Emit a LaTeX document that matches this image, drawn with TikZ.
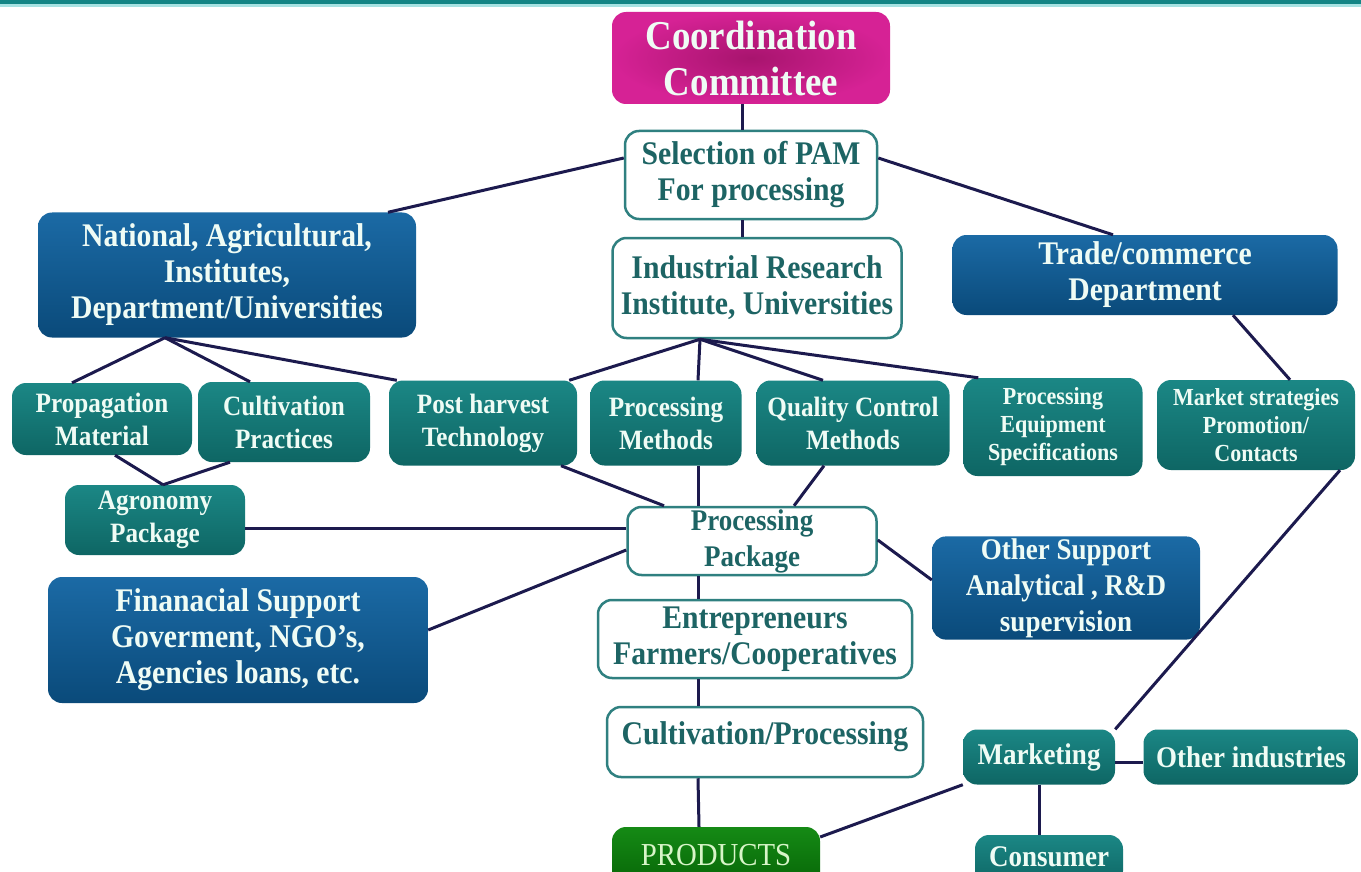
\documentclass[tikz,border=0pt]{standalone}
\usepackage{fontspec}
\setmainfont{Liberation Serif}[FakeStretch=0.9]
\usetikzlibrary{positioning}
\definecolor{navyLine}{HTML}{1C1A4E}
\definecolor{tealLine}{HTML}{2F8080}
\definecolor{tealText}{HTML}{1D6464}
\definecolor{lightText}{HTML}{EFFCF5}
\definecolor{blueTop}{HTML}{1B6AA5}
\definecolor{blueBot}{HTML}{0A4A7A}
\definecolor{tealTop}{HTML}{1B8785}
\definecolor{tealBot}{HTML}{0E6664}
\definecolor{pinkIn}{HTML}{A8146E}
\definecolor{pinkOut}{HTML}{D62295}
\definecolor{greenTop}{HTML}{158A15}
\definecolor{greenBot}{HTML}{056005}
\definecolor{greenText}{HTML}{D8F5C8}
\definecolor{barTeal}{HTML}{138585}
\definecolor{barLight}{HTML}{A6E2E2}
\tikzstyle{box} = [rounded corners=14pt, align=center, inner sep=2pt]
\tikzstyle{whiteBox} = [box, fill=white, draw=tealLine, line width=2.5pt, text=tealText]
\tikzstyle{blueBox} = [box, top color=blueTop, bottom color=blueBot, text=lightText]
\tikzstyle{tealBox} = [box, top color=tealTop, bottom color=tealBot, text=lightText]
\tikzstyle{pinkBox} = [box, inner color=pinkIn, outer color=pinkOut, text=lightText]
\tikzstyle{greenBox} = [box, top color=greenTop, bottom color=greenBot, text=greenText]
\tikzstyle{hugeText} = [font=\fontsize{41}{46}\selectfont\bfseries]
\tikzstyle{bigText} = [font=\fontsize{33}{36}\selectfont\bfseries]
\tikzstyle{midText} = [font=\fontsize{30}{36}\selectfont\bfseries]
\tikzstyle{smallText} = [font=\fontsize{28}{33}\selectfont\bfseries]
\tikzstyle{tinyText} = [font=\fontsize{24.5}{28}\selectfont\bfseries]
\tikzstyle{link} = [line width=3pt, draw=navyLine]

\begin{document}
\begin{tikzpicture}[x=1pt, y=-1pt]
    \clip (0,0) rectangle (1361,872);
    \fill[white] (0,0) rectangle (1361,872);
    \fill[barLight] (0,0) rectangle (1361,7);
    \fill[barTeal] (0,0) rectangle (1361,4);
    % top of the chart
    \node (coord) [pinkBox, hugeText, minimum width=278pt, minimum height=92pt] at (751,58) {Coordination\\Committee};
    \node (select) [whiteBox, bigText, minimum width=252pt, minimum height=88pt] at (751,175) {Selection of PAM\\For processing};
    \node (national) [blueBox, bigText, minimum width=378pt, minimum height=125pt] at (227,275) {National, Agricultural,\\Institutes,\\Department/Universities};
    \node (industrial) [whiteBox, bigText, minimum width=289pt, minimum height=100pt] at (757,288) {Industrial Research\\Institute, Universities};
    \node (trade) [blueBox, bigText, minimum width=385pt, minimum height=80pt] at (1145,275) {Trade/commerce\\Department};
    % second row
    \node (prop) [tealBox, smallText, minimum width=180pt, minimum height=72pt] at (102,419) {Propagation\\Material};
    \node (cult) [tealBox, smallText, minimum width=172pt, minimum height=80pt] at (284,422) {Cultivation\\Practices};
    \node (post) [tealBox, smallText, minimum width=188pt, minimum height=85pt] at (483,423) {Post harvest\\Technology};
    \node (meth) [tealBox, smallText, minimum width=151pt, minimum height=85pt] at (666,423) {Processing\\Methods};
    \node (qual) [tealBox, smallText, minimum width=193pt, minimum height=85pt] at (853,423) {Quality Control\\Methods};
    \node (equip) [tealBox, tinyText, minimum width=179pt, minimum height=98pt] at (1053,427) {Processing\\Equipment\\Specifications};
    \node (market) [tealBox, tinyText, minimum width=198pt, minimum height=90pt] at (1256,425) {Market strategies\\Promotion/\\Contacts};
    % packages
    \node (agro) [tealBox, smallText, minimum width=180pt, minimum height=70pt] at (155,520) {Agronomy\\Package};
    \node (proc) [whiteBox, midText, minimum width=249pt, minimum height=68pt] at (752,541) {Processing\\Package};
    \node (other) [blueBox, midText, minimum width=268pt, minimum height=100pt] at (1066,588) {Other Support\\Analytical , R\&D\\supervision};
    \node (fin) [blueBox, bigText, minimum width=380pt, minimum height=126pt] at (238,640) {Finanacial Support\\Goverment, NGO's,\\Agencies loans, etc.};
    % bottom column
    \node (entr) [whiteBox, bigText, minimum width=314pt, minimum height=78pt] at (755,639) {Entrepreneurs\\Farmers/Cooperatives};
    \node (cultproc) [whiteBox, bigText, minimum width=316pt, minimum height=70pt, text depth=18pt] at (765,742) {Cultivation/Processing};
    \node (products) [greenBox, font=\fontsize{32}{36}\selectfont, minimum width=208pt, minimum height=68pt, text height=22pt, text depth=14pt] at (716,861) {PRODUCTS};
    \node (marketing) [tealBox, midText, minimum width=152pt, minimum height=55pt] at (1039,757) {Marketing};
    \node (others) [tealBox, midText, minimum width=215pt, minimum height=55pt] at (1251,757) {Other industries};
    \node (consumer) [tealBox, midText, minimum width=148pt, minimum height=50pt, text height=21pt, text depth=9pt] at (1049,860) {Consumer};
    % links
    \draw [link] ([xshift=-9pt]coord.south) -- ([xshift=-9pt]select.north);
    \draw [link] ([xshift=-9pt]select.south) -- ([xshift=-15pt]industrial.north);
    \draw [link] ([yshift=17pt]select.west) -- ([xshift=161pt]national.north);
    \draw [link] ([yshift=17pt]select.east) -- ([xshift=-32pt]trade.north);
    \draw [link] ([xshift=-62pt]national.south) -- ([xshift=-30pt]prop.north);
    \draw [link] ([xshift=-62pt]national.south) -- ([xshift=-34pt]cult.north);
    \draw [link] ([xshift=-62pt]national.south) -- ([xshift=8pt]post.north west);
    \draw [link] ([xshift=-57pt]industrial.south) -- ([xshift=-8pt]post.north east);
    \draw [link] ([xshift=-57pt]industrial.south) -- ([xshift=32pt]meth.north);
    \draw [link] ([xshift=-57pt]industrial.south) -- ([xshift=-30pt]qual.north);
    \draw [link] ([xshift=-57pt]industrial.south) -- ([xshift=15pt]equip.north west);
    \draw [link] ([xshift=88pt]trade.south) -- ([xshift=34pt]market.north);
    \draw [link] ([xshift=13pt]prop.south) -- ([xshift=8pt]agro.north);
    \draw [link] ([xshift=-54pt]cult.south) -- ([xshift=8pt]agro.north);
    \draw [link] ([yshift=-8pt]agro.east) -- ([yshift=13pt]proc.west);
    \draw [link] ([yshift=10pt]fin.east) -- ([yshift=-9pt]proc.west);
    \draw [link] ([xshift=78pt]post.south) -- ([xshift=-88pt]proc.north);
    \draw [link] ([xshift=32pt]meth.south) -- ([xshift=-54pt]proc.north);
    \draw [link] ([xshift=-29pt]qual.south) -- ([xshift=42pt]proc.north);
    \draw [link] ([yshift=1pt]proc.east) -- ([yshift=8pt]other.west);
    \draw [link] ([xshift=-54pt]proc.south) -- ([xshift=-57pt]entr.north);
    \draw [link] ([xshift=-57pt]entr.south) -- ([xshift=-67pt]cultproc.north);
    \draw [link] ([xshift=-67pt]cultproc.south) -- ([xshift=-17pt]products.north);
    \draw [link] ([xshift=84pt]market.south) -- (marketing.north east);
    \draw [link] ([yshift=-5pt]marketing.east) -- ([yshift=-5pt]others.west);
    \draw [link] (marketing.south) -- ([xshift=-10pt]consumer.north);
    \draw [link] (marketing.south west) -- ([yshift=24pt]products.east);
\end{tikzpicture}
\end{document}
